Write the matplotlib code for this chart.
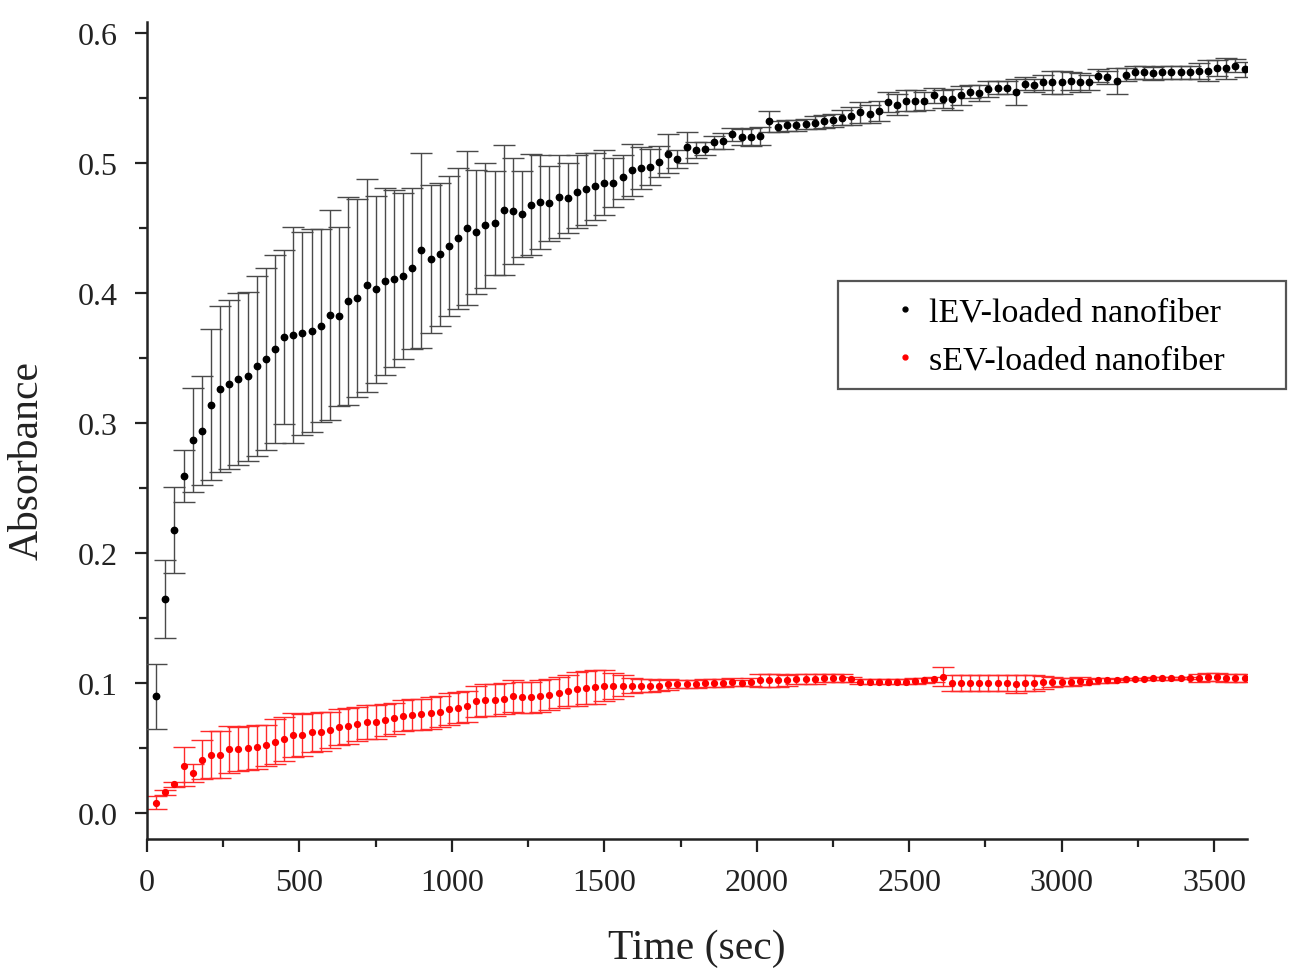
import numpy as np
import matplotlib
matplotlib.use("Agg")
import matplotlib.pyplot as plt
from matplotlib.lines import Line2D
from matplotlib.patches import Rectangle
from matplotlib.ticker import MultipleLocator

# ---------------- data ----------------
time_sec = np.arange(30, 3601, 30)

lev_mean = [
    0.090, 0.165, 0.218, 0.259, 0.287, 0.294, 0.314, 0.326, 0.330, 0.334,
    0.336, 0.344, 0.349, 0.357, 0.366, 0.368, 0.369, 0.371, 0.375, 0.383,
    0.382, 0.394, 0.396, 0.406, 0.403, 0.409, 0.411, 0.413, 0.419, 0.433,
    0.426, 0.430, 0.436, 0.442, 0.450, 0.447, 0.452, 0.454, 0.464, 0.463,
    0.461, 0.468, 0.470, 0.469, 0.474, 0.473, 0.478, 0.480, 0.482, 0.485,
    0.485, 0.489, 0.495, 0.496, 0.497, 0.501, 0.507, 0.503, 0.512, 0.510,
    0.511, 0.516, 0.517, 0.522, 0.520, 0.520, 0.521, 0.532, 0.528, 0.529,
    0.529, 0.530, 0.531, 0.532, 0.533, 0.535, 0.536, 0.539, 0.538, 0.540,
    0.547, 0.545, 0.548, 0.548, 0.548, 0.552, 0.549, 0.549, 0.552, 0.555,
    0.554, 0.557, 0.558, 0.558, 0.555, 0.561, 0.560, 0.562, 0.562, 0.562,
    0.563, 0.562, 0.562, 0.567, 0.566, 0.563, 0.568, 0.570, 0.570, 0.569,
    0.570, 0.570, 0.570, 0.570, 0.571, 0.571, 0.573, 0.573, 0.575, 0.572,
]
lev_err = [
    0.025, 0.030, 0.033, 0.020, 0.040, 0.042, 0.058, 0.064, 0.065, 0.066,
    0.065, 0.069, 0.070, 0.072, 0.067, 0.083, 0.078, 0.078, 0.074, 0.081,
    0.069, 0.080, 0.076, 0.082, 0.072, 0.072, 0.068, 0.064, 0.062, 0.075,
    0.057, 0.055, 0.054, 0.054, 0.059, 0.048, 0.048, 0.040, 0.050, 0.041,
    0.033, 0.039, 0.036, 0.029, 0.032, 0.027, 0.028, 0.028, 0.026, 0.025,
    0.019, 0.017, 0.020, 0.016, 0.014, 0.012, 0.015, 0.007, 0.012, 0.006,
    0.005, 0.005, 0.006, 0.005, 0.006, 0.007, 0.007, 0.008, 0.004, 0.004,
    0.004, 0.004, 0.005, 0.005, 0.005, 0.006, 0.007, 0.008, 0.007, 0.008,
    0.008, 0.008, 0.008, 0.008, 0.007, 0.006, 0.007, 0.008, 0.007, 0.005,
    0.006, 0.006, 0.005, 0.005, 0.010, 0.005, 0.005, 0.006, 0.009, 0.009,
    0.007, 0.007, 0.006, 0.005, 0.005, 0.010, 0.005, 0.005, 0.005, 0.005,
    0.005, 0.005, 0.005, 0.005, 0.006, 0.008, 0.006, 0.008, 0.005, 0.006,
]

sev_mean = [
    0.008, 0.016, 0.022, 0.036, 0.031, 0.041, 0.045, 0.045, 0.049, 0.049,
    0.050, 0.051, 0.052, 0.055, 0.057, 0.060, 0.060, 0.062, 0.0625, 0.064,
    0.066, 0.067, 0.0685, 0.070, 0.070, 0.0715, 0.073, 0.075, 0.0755, 0.076,
    0.077, 0.078, 0.080, 0.081, 0.082, 0.086, 0.087, 0.087, 0.088, 0.090,
    0.089, 0.089, 0.090, 0.091, 0.0925, 0.094, 0.0955, 0.0965, 0.097, 0.098,
    0.0975, 0.098, 0.098, 0.098, 0.098, 0.098, 0.099, 0.099, 0.099, 0.0995,
    0.100, 0.100, 0.100, 0.101, 0.100, 0.101, 0.102, 0.102, 0.102, 0.102,
    0.103, 0.103, 0.103, 0.104, 0.104, 0.104, 0.103, 0.101, 0.101, 0.101,
    0.101, 0.101, 0.101, 0.1015, 0.102, 0.103, 0.105, 0.100, 0.100, 0.100,
    0.100, 0.100, 0.100, 0.100, 0.0995, 0.100, 0.100, 0.1005, 0.101, 0.101,
    0.101, 0.1015, 0.101, 0.102, 0.102, 0.102, 0.103, 0.103, 0.103, 0.1035,
    0.1035, 0.1035, 0.104, 0.104, 0.104, 0.1045, 0.1045, 0.104, 0.104, 0.104,
]
sev_err = [
    0.005, 0.002, 0.002, 0.015, 0.007, 0.015, 0.018, 0.018, 0.018, 0.017,
    0.017, 0.017, 0.016, 0.017, 0.017, 0.017, 0.016, 0.015, 0.015, 0.014,
    0.014, 0.014, 0.013, 0.013, 0.013, 0.012, 0.012, 0.012, 0.012, 0.012,
    0.012, 0.012, 0.012, 0.012, 0.012, 0.012, 0.012, 0.012, 0.012, 0.012,
    0.012, 0.012, 0.012, 0.012, 0.012, 0.012, 0.013, 0.013, 0.013, 0.012,
    0.010, 0.008, 0.006, 0.005, 0.005, 0.004, 0.004, 0.003, 0.003, 0.003,
    0.003, 0.003, 0.003, 0.003, 0.002, 0.003, 0.005, 0.005, 0.005, 0.004,
    0.004, 0.004, 0.004, 0.003, 0.003, 0.003, 0.002, 0.002, 0.002, 0.002,
    0.002, 0.002, 0.002, 0.002, 0.002, 0.002, 0.007, 0.006, 0.006, 0.006,
    0.006, 0.006, 0.006, 0.006, 0.007, 0.006, 0.006, 0.005, 0.004, 0.003,
    0.003, 0.003, 0.002, 0.002, 0.002, 0.001, 0.001, 0.001, 0.001, 0.001,
    0.001, 0.001, 0.001, 0.001, 0.003, 0.003, 0.003, 0.003, 0.003, 0.003,
]

labels = ["lEV-loaded nanofiber", "sEV-loaded nanofiber"]
x_ticks = [0, 500, 1000, 1500, 2000, 2500, 3000, 3500]
y_ticks = [0.0, 0.1, 0.2, 0.3, 0.4, 0.5, 0.6]

# ---------------- figure ----------------
plt.rcParams["font.family"] = ["Liberation Serif", "DejaVu Serif"]

W, H = 1289, 978
fig = plt.figure(figsize=(W / 100, H / 100), dpi=100)
ax = fig.add_axes([147 / W, 1 - 840 / H, 1100 / W, 817 / H])

ax.errorbar(time_sec, sev_mean, yerr=sev_err, fmt="o", color="#ff0000",
            mec="#ff0000", ecolor="#ff2a2a", elinewidth=1.0, capsize=8,
            capthick=1.0, markersize=4.2, zorder=2)
ax.errorbar(time_sec, lev_mean, yerr=lev_err, fmt="o", color="black",
            mec="black", ecolor="#4a4a4a", elinewidth=1.0, capsize=8,
            capthick=1.0, markersize=4.6, zorder=3)

ax.set_xlim(0, 3608)
ax.set_ylim(-0.02, 0.6085)
ax.set_xticks(x_ticks)
ax.set_yticks(y_ticks)
ax.set_yticklabels([f"{v:.1f}" for v in y_ticks])
ax.xaxis.set_minor_locator(MultipleLocator(250))
ax.yaxis.set_minor_locator(MultipleLocator(0.05))

for s in ["top", "right"]:
    ax.spines[s].set_visible(False)
for s in ["left", "bottom"]:
    ax.spines[s].set_linewidth(1.8)
    ax.spines[s].set_color("#222222")

ax.tick_params(axis="both", which="major", direction="out", length=9,
               width=1.6, labelsize=23, pad=12, colors="#222222")
ax.tick_params(axis="both", which="minor", direction="out", length=6,
               width=1.6, colors="#222222")

ax.set_xlabel("Time (sec)", fontsize=30, color="#222222")
ax.set_ylabel("Absorbance", fontsize=30, color="#222222")
ax.xaxis.set_label_coords(0.5, -0.11)
ax.yaxis.set_label_coords(-0.091, 0.465)

# legend (frameless) + separate frame
handles = [
    Line2D([], [], linestyle="none", marker="o", color="black", markersize=3.5),
    Line2D([], [], linestyle="none", marker="o", color="#ff0000", markersize=3.5),
]
fig.legend(handles, labels, loc="upper left",
           bbox_to_anchor=(888 / W, 1 - 298 / H), bbox_transform=fig.transFigure,
           frameon=False, fontsize=24.5, handlelength=1.0, handletextpad=0.2,
           borderpad=0, borderaxespad=0, labelspacing=0.5)
fig.patches.append(Rectangle((838 / W, 1 - 390 / H), 448 / W, 108 / H,
                             transform=fig.transFigure, fill=False,
                             edgecolor="#555555", linewidth=1.6))

fig.savefig("out.png", dpi=100)
